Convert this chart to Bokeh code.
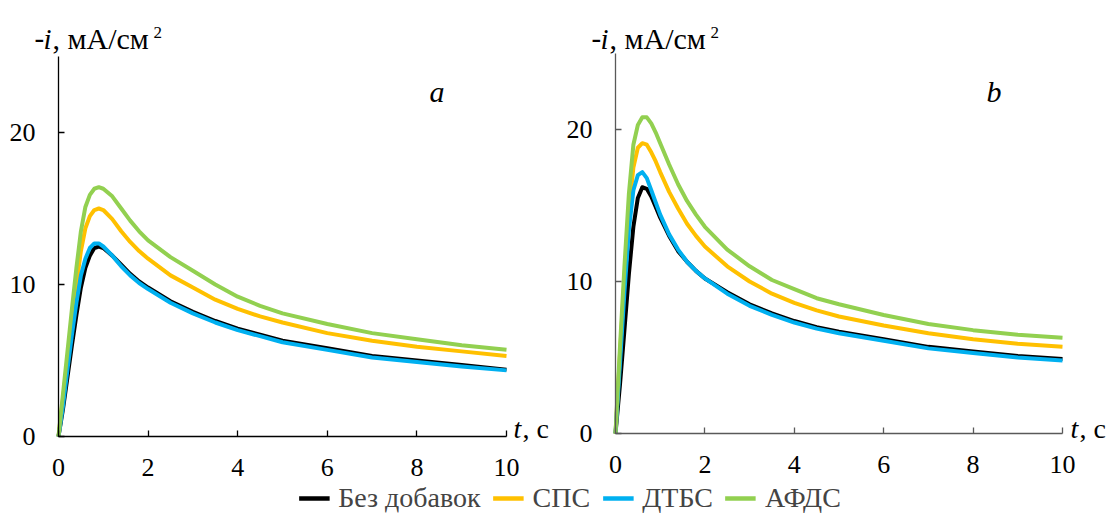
from bokeh.plotting import figure
from bokeh.models import Label, Range1d, Legend, LegendItem, FixedTicker
from bokeh.layouts import row, column
from bokeh.embed import file_html
from bokeh.resources import INLINE

# ---- data ----
t = [0, 0.1, 0.2, 0.3, 0.4, 0.5, 0.6, 0.7, 0.8, 0.9, 1.0, 1.2, 1.4, 1.6, 1.8,
     2.0, 2.5, 3.0, 3.5, 4.0, 4.5, 5.0, 6.0, 7.0, 8.0, 9.0, 10.0]

series_names = ["Без добавок", "СПС", "ДТБС", "АФДС"]
series_colors = ["#000000", "#FFC000", "#00B0F0", "#92D050"]

# panel a
a_none = [0, 1.8, 3.9, 6.0, 8.0, 9.8, 11.1, 11.9, 12.4, 12.5, 12.4, 11.9, 11.3, 10.7, 10.2,
          9.8, 8.9, 8.2, 7.6, 7.1, 6.7, 6.3, 5.8, 5.3, 5.0, 4.7, 4.4]
a_sps = [0, 2.5, 5.0, 7.6, 10.0, 12.2, 13.7, 14.5, 14.9, 15.0, 14.9, 14.3, 13.5, 12.8, 12.2,
         11.7, 10.6, 9.8, 9.0, 8.4, 7.9, 7.5, 6.8, 6.3, 5.9, 5.6, 5.3]
a_dtbs = [0, 2.0, 4.4, 6.7, 8.8, 10.6, 11.7, 12.4, 12.7, 12.7, 12.5, 11.9, 11.2, 10.6, 10.1,
          9.7, 8.8, 8.1, 7.5, 7.0, 6.6, 6.2, 5.7, 5.2, 4.9, 4.6, 4.35]
a_afds = [0, 2.8, 5.6, 8.4, 11.1, 13.5, 15.1, 15.9, 16.3, 16.4, 16.3, 15.8, 15.0, 14.2, 13.5,
          12.9, 11.8, 10.9, 10.0, 9.2, 8.6, 8.1, 7.4, 6.8, 6.4, 6.0, 5.7]

# panel b
b_none = [0, 3.2, 6.8, 10.5, 13.6, 15.5, 16.2, 16.1, 15.6, 14.9, 14.2, 13.0, 12.0, 11.3, 10.7,
          10.2, 9.3, 8.5, 7.9, 7.4, 7.0, 6.7, 6.2, 5.7, 5.4, 5.1, 4.9]
b_sps = [0, 5.2, 10.2, 14.6, 17.5, 18.8, 19.1, 19.0, 18.5, 17.9, 17.2, 15.9, 14.8, 13.8, 13.0,
         12.3, 11.0, 10.0, 9.2, 8.6, 8.1, 7.7, 7.1, 6.6, 6.2, 5.9, 5.7]
b_dtbs = [0, 4.6, 9.3, 13.4, 16.0, 17.0, 17.2, 16.8, 16.0, 15.2, 14.4, 13.1, 12.1, 11.3, 10.7,
          10.2, 9.2, 8.4, 7.8, 7.3, 6.9, 6.6, 6.1, 5.6, 5.3, 5.0, 4.8]
b_afds = [0, 5.7, 11.0, 15.8, 19.0, 20.3, 20.8, 20.8, 20.4, 19.8, 19.1, 17.7, 16.4, 15.3, 14.4,
          13.6, 12.1, 11.0, 10.1, 9.5, 8.9, 8.5, 7.8, 7.2, 6.8, 6.5, 6.3]

x_ticks = [0, 2, 4, 6, 8, 10]
y_ticks = [0, 10, 20]
x_max, y_max = 10, 25
panel_letters = ["a", "b"]

FONT = "Liberation Serif"


def make_panel(width, height, ox, oy, sx, sy, axis_color, series, letter):
    """ox, oy: pixel position of the data origin (from top-left of the canvas);
    sx, sy: pixels per data unit."""
    x_rng = Range1d(-ox / sx, (width - ox) / sx)
    y_rng = Range1d(-(height - oy) / sy, oy / sy)
    p = figure(width=width, height=height, x_range=x_rng, y_range=y_rng,
               toolbar_location=None, output_backend="svg",
               min_border_left=0, min_border_right=0,
               min_border_top=0, min_border_bottom=0)
    p.outline_line_color = None
    p.grid.visible = False
    p.background_fill_color = "white"
    p.border_fill_color = "white"
    for ax, ticks, bnd in ((p.xaxis[0], x_ticks, (0, x_max)), (p.yaxis[0], y_ticks, (0, y_max))):
        ax.ticker = FixedTicker(ticks=ticks)
        ax.fixed_location = 0
        ax.bounds = bnd
        ax.major_tick_in = 6
        ax.major_tick_out = 0
        ax.minor_tick_in = 0
        ax.minor_tick_out = 0
        ax.axis_line_color = axis_color
        ax.major_tick_line_color = axis_color
        ax.axis_line_width = 1.3
        ax.major_tick_line_width = 1.3
        ax.major_label_text_font = FONT
        ax.major_label_text_font_size = "26px"
        ax.major_label_text_color = "black"
    p.xaxis[0].major_label_standoff = 22
    p.yaxis[0].major_label_standoff = 23

    for vals, col in zip(series, series_colors):
        p.line(t, vals, line_width=4, line_color=col, line_join="round")

    def lab(dx, dy, text, size="26px", style="normal"):
        p.add_layout(Label(x=dx / sx, y=dy / sy, text=text, text_font=FONT,
                           text_font_size=size, text_font_style=style,
                           text_color="black", text_baseline="alphabetic",
                           text_align="left"))

    # y-axis title (offsets in px from the data origin)
    title_dy = oy - 38
    lab(-24, title_dy, "-", size="29px")
    lab(-15, title_dy, "i", size="29px", style="italic")
    lab(-6, title_dy, ", мА/см", size="30px")
    lab(95, title_dy + 6, "2", size="17px")
    # x-axis title
    tl_dy = oy - 428
    lab(455, tl_dy, "t", size="28px", style="italic")
    lab(464, tl_dy, ", с", size="28px")
    # panel letter
    lab(371, oy - 91, letter, size="30px", style="italic")
    return p


p1 = make_panel(564, 482, 58, 436, 44.8, 15.2, "#000000",
                [a_none, a_sps, a_dtbs, a_afds], panel_letters[0])
p2 = make_panel(549, 482, 51, 433, 44.7, 15.2, "#595959",
                [b_none, b_sps, b_dtbs, b_afds], panel_letters[1])

# legend strip (its renderers lie outside the visible range)
lf = figure(width=1113, height=32, x_range=Range1d(100, 101), y_range=Range1d(100, 101),
            toolbar_location=None, output_backend="svg",
            min_border_left=26, min_border_right=0, min_border_top=0, min_border_bottom=0)
lf.axis.visible = False
lf.grid.visible = False
lf.outline_line_color = None
items = []
for name, col, vals in zip(series_names, series_colors, [a_none, a_sps, a_dtbs, a_afds]):
    r = lf.line(t, vals, line_width=4.5, line_color=col)
    items.append(LegendItem(label=name, renderers=[r]))
legend = Legend(items=items, orientation="horizontal", location="center",
                border_line_color=None, background_fill_alpha=0,
                label_text_font=FONT, label_text_font_size="28px",
                glyph_width=31, glyph_height=20, label_standoff=9,
                spacing=12, padding=0, margin=0)
lf.add_layout(legend)

layout = column(row(p1, p2, spacing=0), lf, spacing=0)
open("out.html", "w").write(file_html(layout, INLINE))
